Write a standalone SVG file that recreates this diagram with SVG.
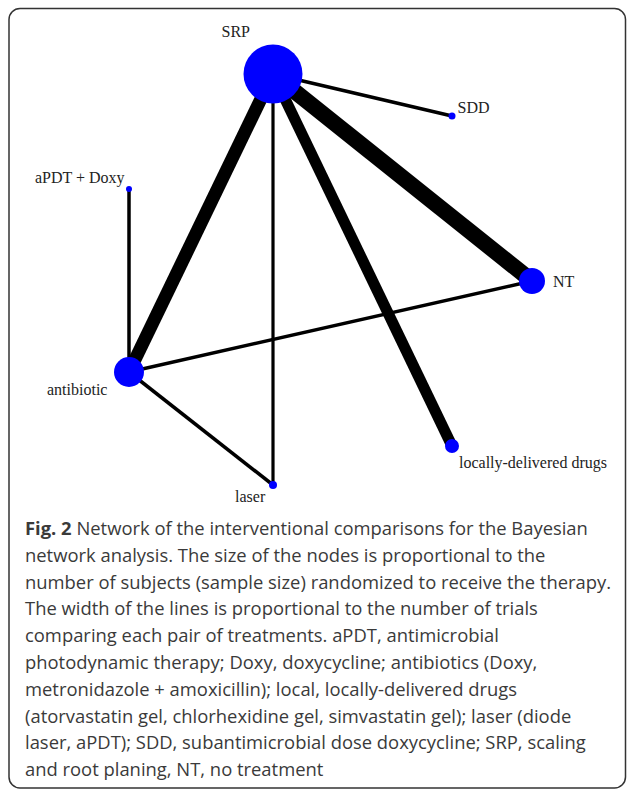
<svg xmlns="http://www.w3.org/2000/svg" width="627" height="789" viewBox="0 0 627 789">
<style>
.frame{fill:#fff;stroke:#333;stroke-width:1.5}
.edge{stroke:#000;fill:none;stroke-linecap:butt}
.node{fill:#0000ff}
.lbl{font-family:"Liberation Serif","Times New Roman",serif;font-size:16px;fill:#222}
.cap{font-family:"Open Sans","Noto Sans",sans-serif;font-size:18.4px;fill:#3a3a3a}
.capb{font-weight:bold}
</style>
<rect width="627" height="789" fill="#fff"/>
<rect class="frame" x="9" y="8.5" width="616.5" height="779.5" rx="11"/>
<g id="connectors">
<line class="edge" x1="273" y1="74" x2="452" y2="116" stroke-width="3.5"/>
<line class="edge" x1="273" y1="74" x2="129" y2="372" stroke-width="13"/>
<line class="edge" x1="273" y1="74" x2="273" y2="485" stroke-width="3.2"/>
<line class="edge" x1="273" y1="74" x2="452" y2="446" stroke-width="11"/>
<line class="edge" x1="273" y1="74" x2="532" y2="281" stroke-width="16"/>
<line class="edge" x1="129" y1="189" x2="129" y2="372" stroke-width="3.5"/>
<line class="edge" x1="129" y1="372" x2="532" y2="281" stroke-width="3.5"/>
<line class="edge" x1="129" y1="372" x2="273" y2="485" stroke-width="3.5"/>
</g>
<g id="node-SRP"><circle class="node" cx="273" cy="74" r="29.5"/><text class="lbl" x="221.5" y="36.5">SRP</text></g>
<g id="node-SDD"><circle class="node" cx="452" cy="116" r="3.5"/><text class="lbl" x="457.5" y="112.5">SDD</text></g>
<g id="node-aPDT-Doxy"><circle class="node" cx="129" cy="189" r="3"/><text class="lbl" x="35" y="183">aPDT + Doxy</text></g>
<g id="node-NT"><circle class="node" cx="532" cy="281" r="13"/><text class="lbl" x="553" y="287">NT</text></g>
<g id="node-antibiotic"><circle class="node" cx="129" cy="372" r="15"/><text class="lbl" x="47" y="395">antibiotic</text></g>
<g id="node-local"><circle class="node" cx="452" cy="446" r="7"/><text class="lbl" x="459" y="468">locally-delivered drugs</text></g>
<g id="node-laser"><circle class="node" cx="273" cy="485" r="4"/><text class="lbl" x="235" y="502">laser</text></g>
<g id="caption">
<text class="cap" x="25" y="535"><tspan class="capb">Fig. 2</tspan> Network of the interventional comparisons for the Bayesian</text>
<text class="cap" x="25" y="561.8">network analysis. The size of the nodes is proportional to the</text>
<text class="cap" x="25" y="588.6">number of subjects (sample size) randomized to receive the therapy.</text>
<text class="cap" x="25" y="615.4">The width of the lines is proportional to the number of trials</text>
<text class="cap" x="25" y="642.2">comparing each pair of treatments. aPDT, antimicrobial</text>
<text class="cap" x="25" y="669">photodynamic therapy; Doxy, doxycycline; antibiotics (Doxy,</text>
<text class="cap" x="25" y="695.8">metronidazole + amoxicillin); local, locally-delivered drugs</text>
<text class="cap" x="25" y="722.6">(atorvastatin gel, chlorhexidine gel, simvastatin gel); laser (diode</text>
<text class="cap" x="25" y="749.4">laser, aPDT); SDD, subantimicrobial dose doxycycline; SRP, scaling</text>
<text class="cap" x="25" y="776.2">and root planing, NT, no treatment</text>
</g>
</svg>
